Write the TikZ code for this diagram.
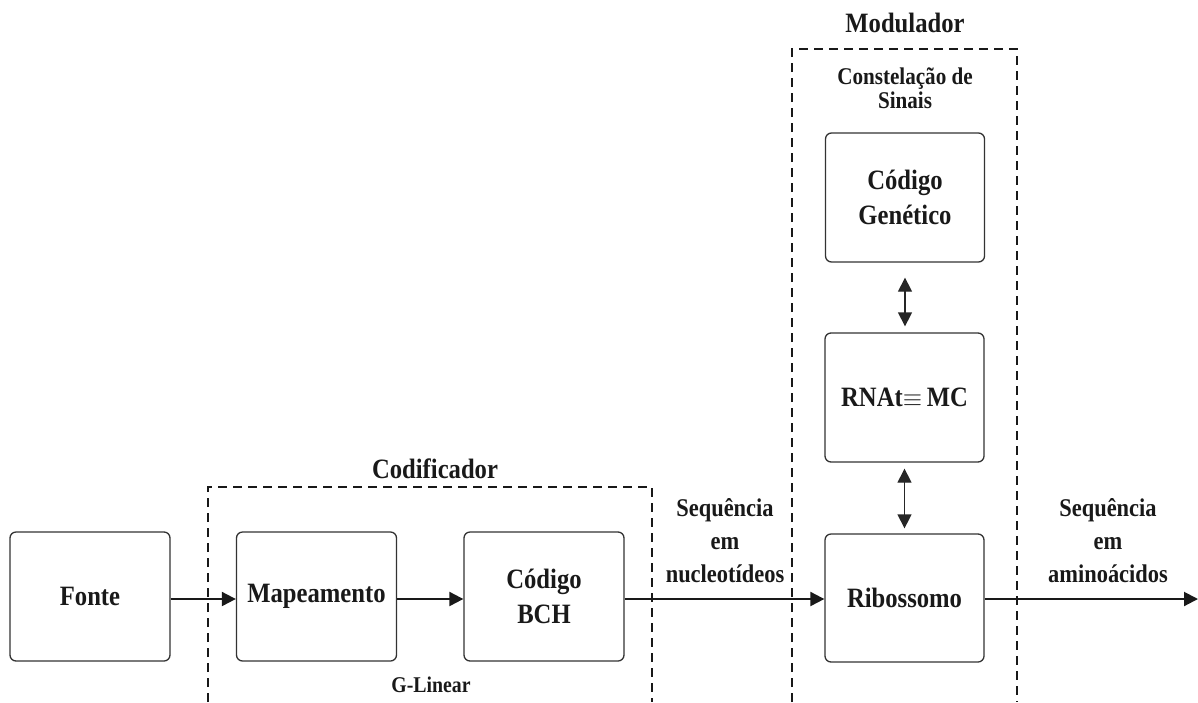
\documentclass[tikz,border=0pt]{standalone}
\usepackage{fontspec}
\setmainfont{Liberation Serif}[FakeStretch=0.88]
\usetikzlibrary{arrows.meta}

\newcommand{\bigtxt}{\bfseries\fontsize{28}{35}\selectfont}
\newcommand{\midtxt}{\bfseries\fontsize{25.5}{33}\selectfont}
\newcommand{\smalltxt}{\bfseries\fontsize{24}{24}\selectfont}
\newcommand{\tinytxt}{\bfseries\fontsize{22.5}{24}\selectfont}

\begin{document}
\begin{tikzpicture}[x=1pt,y=-1pt,
  blockbox/.style={draw=black!80, line width=1.3pt, rounded corners=6pt,
    minimum width=160pt, minimum height=129pt, inner sep=0pt,
    align=center, text=black!90, font=\bigtxt},
  flow/.style={line width=2pt, draw=black!90,
    -{Triangle[length=14pt,width=14pt]}},
  link/.style={line width=1.3pt, draw=black!85,
    {Triangle[length=14pt,width=14pt]}-{Triangle[length=14pt,width=14pt]}},
  groupline/.style={line width=1.4pt, draw=black!90,
    dash pattern=on 9pt off 6pt},
  caption/.style={inner sep=0pt, align=center, text=black!90}]

\useasboundingbox (0,0) rectangle (1198,702);

% processing blocks
\node[blockbox] (fonte) at (90,596.5) {Fonte};
\node[blockbox] (map) at (316.5,596.5) {Mapeamento};
\node[blockbox] (bch) at (544,596.5) {Código\\BCH};
\node[blockbox, minimum width=159pt, minimum height=128pt] (ribo) at (904.5,598) {Ribossomo};
\node[blockbox, minimum width=159pt] (rna) at (904.5,397.5) {RNAt$\equiv$\,MC};
\node[blockbox, minimum width=159pt] (gen) at (905,197.5) {Código\\Genético};

% group frames (open at the bottom)
\draw[groupline] (208,702) -- (208,487) -- (652,487) -- (652,702);
\draw[groupline] (792,702) -- (792,49) -- (1017,49) -- (1017,702);

% group titles and notes
\node[caption, font=\bigtxt, anchor=base] (codtitle) at (435,478) {Codificador};
\node[caption, font=\bigtxt, anchor=base] (modtitle) at (905,32) {Modulador};
\node[caption, font=\smalltxt] (const) at (905,88) {Constelação de\\Sinais};
\node[caption, font=\tinytxt, anchor=base] (glin) at (431,692) {G-Linear};
\node[caption, font=\midtxt] (seqnuc) at (725,541) {Sequência\\em\\nucleotídeos};
\node[caption, font=\midtxt] (seqami) at (1108,541) {Sequência\\em\\aminoácidos};

% signal path
\coordinate (out) at (1198,599);
\draw[flow] (fonte.east |- 0,599) -- (map.west |- 0,599);
\draw[flow] (map.east |- 0,599) -- (bch.west |- 0,599);
\draw[flow] (bch.east |- 0,599) -- (ribo.west |- 0,599);
\draw[flow] (ribo.east |- 0,599) -- (out);

% exchanges inside the modulator
\draw[link, shorten <=15pt, shorten >=6pt] (gen.south) -- (gen.south |- rna.north);
\draw[link, shorten <=6pt, shorten >=5pt] (rna.south) -- (rna.south |- ribo.north);
\end{tikzpicture}
\end{document}
